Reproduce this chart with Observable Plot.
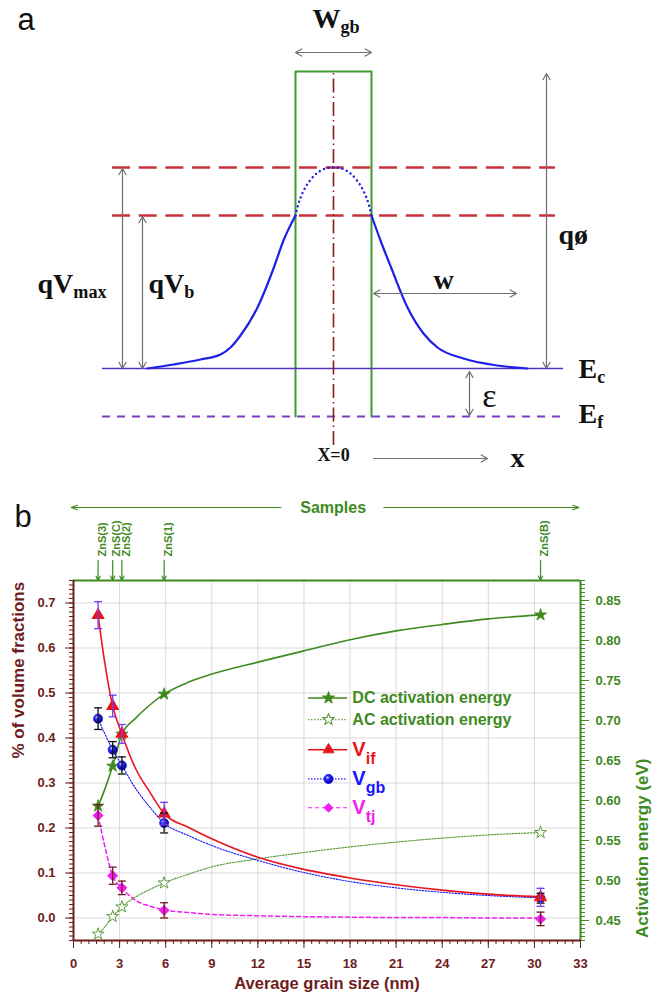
<!DOCTYPE html>
<html>
<head>
<meta charset="utf-8">
<script src="https://cdn.jsdelivr.net/npm/d3@7"></script>
<script src="https://cdn.jsdelivr.net/npm/@observablehq/plot@0.6"></script>
<style>
  html, body { margin: 0; padding: 0; background: #fff; }
  #fig { width: 661px; }
  #fig svg { display: block; }
</style>
</head>
<body>
<svg width="0" height="0" style="position:absolute">
  <defs>
    <radialGradient id="sphere" cx="38%" cy="35%" r="65%">
      <stop offset="0%" stop-color="#d0d4ff"/>
      <stop offset="35%" stop-color="#2a2aff"/>
      <stop offset="100%" stop-color="#00008a"/>
    </radialGradient>
  </defs>
</svg>
<div id="fig"></div>
<script>
// ================= Panel (b) data =================
const samples   = ["ZnS(3)", "ZnS(C)", "ZnS(2)", "ZnS(1)", "ZnS(B)"];
const grainSize = [1.6, 2.55, 3.15, 5.9, 30.4];
const vIf       = [0.673, 0.471, 0.409, 0.232, 0.046];
const vIfErr    = [0.030, 0.024, 0.021, 0.025, 0.020];
const vGb       = [0.443, 0.374, 0.339, 0.211, 0.044];
const vGbErr    = [0.024, 0.018, 0.019, 0.022, 0.011];
const vTj       = [0.228, 0.094, 0.067, 0.017, -0.002];
const vTjErr    = [0.024, 0.019, 0.015, 0.017, 0.015];
const dcEnergy  = [0.593, 0.643, 0.683, 0.733, 0.832];
const acEnergy  = [0.433, 0.455, 0.467, 0.497, 0.560];

// fitted curves
const fitX   = [1.6, 2.0, 2.55, 3.15, 4, 5, 5.9, 7.5, 9, 12, 15, 18, 21, 24, 27, 30.4];
const vIfFit = [0.673, 0.575, 0.471, 0.409, 0.335, 0.278, 0.232, 0.201, 0.176, 0.135, 0.108, 0.089, 0.074, 0.062, 0.053, 0.047];
const vGbFit = [0.443, 0.412, 0.374, 0.339, 0.290, 0.245, 0.211, 0.183, 0.161, 0.128, 0.101, 0.081, 0.067, 0.057, 0.050, 0.045];
const vTjFit = [0.228, 0.165, 0.094, 0.067, 0.040, 0.026, 0.018, 0.012, 0.008, 0.005, 0.003, 0.002, 0.001, 0.001, 0.000, 0.000];
const dcFit  = [0.593, 0.612, 0.643, 0.683, 0.702, 0.720, 0.733, 0.748, 0.758, 0.773, 0.787, 0.801, 0.812, 0.820, 0.827, 0.832];
const acFit  = [0.433, 0.441, 0.455, 0.467, 0.479, 0.489, 0.497, 0.508, 0.517, 0.527, 0.535, 0.542, 0.548, 0.553, 0.557, 0.560];

const xTicks = [0, 3, 6, 9, 12, 15, 18, 21, 24, 27, 30, 33];
const yTicks = [0.0, 0.1, 0.2, 0.3, 0.4, 0.5, 0.6, 0.7];
const eTicks = [0.45, 0.50, 0.55, 0.60, 0.65, 0.70, 0.75, 0.80, 0.85];
const legendLabels = ["DC activation energy", "AC activation energy", "V_{if}", "V_{gb}", "V_{tj}"];

// ================= Panel (a) schematic (x: offset from boundary centre, e: energy above E_f; arbitrary units) =================
const levelEf = 0, levelEc = 48, levelVb = 201, levelVmax = 249, levelTop = 345;
const bandX = [-231, 230];
const dashX = [-221, 222];
const gbOutlineX = [-38, -38, 38, 38];
const gbOutlineE = [0, 345, 345, 0];
const barrierLeftX  = [-186, -160, -133, -113, -103, -93, -76, -60, -50, -38];
const barrierLeftE  = [48, 52, 57, 62, 69, 81, 109, 148, 176, 201];
const barrierTopX   = [-38, -34, -27, -17, -8, 0, 8, 17, 27, 34, 38];
const barrierTopE   = [201, 216, 231, 243, 248, 249, 248, 243, 231, 216, 201];
const barrierRightX = [38, 47, 58, 74, 90, 104, 130, 164, 194];
const barrierRightE = [201, 176, 148, 109, 83, 69, 58, 51, 48];
const dblArrows = [
  {x1: -38, e1: 364, x2: 38, e2: 364},
  {x1: -211, e1: 48, x2: -211, e2: 248},
  {x1: -191, e1: 48, x2: -191, e2: 200},
  {x1: 213, e1: 48, x2: 213, e2: 343},
  {x1: 40, e1: 123, x2: 183, e2: 123},
  {x1: 136, e1: 1, x2: 136, e2: 45}
];
const xArrow = [{x1: 40, e1: -42, x2: 154, e2: -42}];
const labelsA = [
  {t: "W_{gb}", x: -21, e: 389},
  {t: "qV_{max}", x: -296, e: 124},
  {t: "qV_{b}", x: -185, e: 124},
  {t: "qø", x: 225, e: 173},
  {t: "E_{c}", x: 245, e: 39},
  {t: "E_{f}", x: 245, e: -6}
];

// ---------- helpers ----------
function applySubscripts(svg, size, shift) {
  d3.select(svg).selectAll("text").each(function () {
    const m = this.textContent.match(/^(.*)_\{(.*)\}$/);
    if (!m) return;
    this.textContent = "";
    const s = d3.select(this);
    s.append("tspan").text(m[1]);
    s.append("tspan").attr("font-size", size).attr("dy", shift).text(m[2]);
  });
}
const cap = {draw(ctx, size) { const w = Math.sqrt(size / Math.PI); ctx.moveTo(-w, 0); ctx.lineTo(w, 0); }};

// ================= Panel (a) =================
const grey = "#707070";
const halfArrows = dblArrows.flatMap(a => {
  const mx = (a.x1 + a.x2) / 2, me = (a.e1 + a.e2) / 2;
  return [{x1: mx, e1: me, x2: a.x1, e2: a.e1}, {x1: mx, e1: me, x2: a.x2, e2: a.e2}];
});
const ptsOf = (X, E) => X.map((x, i) => ({x, e: E[i]}));

const plotA = Plot.plot({
  width: 661, height: 480,
  x: {domain: [-333, 328], range: [0, 661], axis: null},
  y: {domain: [-64, 416], range: [480, 0], axis: null},
  style: {fontFamily: "'Liberation Serif', 'Times New Roman', serif", fontWeight: "bold", background: "white", overflow: "visible", color: "#111"},
  marks: [
    Plot.ruleY([levelEf], {x1: bandX[0], x2: bandX[1], stroke: "#7a3cc0", strokeWidth: 1.8, strokeDasharray: "8,7"}),
    Plot.line(ptsOf(gbOutlineX, gbOutlineE), {x: "x", y: "e", stroke: "#3f9b2f", strokeWidth: 2}),
    Plot.ruleY([levelVmax, levelVb], {x1: dashX[0], x2: dashX[1], stroke: "#c8323a", strokeWidth: 2.4, strokeDasharray: "18,8.7"}),
    Plot.ruleY([levelEc], {x1: bandX[0], x2: bandX[1], stroke: "#5530c8", strokeWidth: 1.6}),
    Plot.ruleX([0], {y1: -29, y2: levelTop, stroke: "#8b1d1d", strokeWidth: 1.6, strokeDasharray: "14,4,1.5,4"}),
    Plot.line(ptsOf(barrierLeftX, barrierLeftE), {x: "x", y: "e", curve: "monotone-x", stroke: "#1f1fe6", strokeWidth: 2.2}),
    Plot.line(ptsOf(barrierRightX, barrierRightE), {x: "x", y: "e", curve: "monotone-x", stroke: "#1f1fe6", strokeWidth: 2.2}),
    Plot.line(ptsOf(barrierTopX, barrierTopE), {x: "x", y: "e", curve: "catmull-rom", stroke: "#1f1fe6", strokeWidth: 2.4, strokeDasharray: "0.1,4.6", strokeLinecap: "round"}),
    Plot.arrow(halfArrows, {x1: "x1", y1: "e1", x2: "x2", y2: "e2", stroke: grey, strokeWidth: 1.2, headLength: 9, headAngle: 60}),
    Plot.arrow(xArrow, {x1: "x1", y1: "e1", x2: "x2", y2: "e2", stroke: grey, strokeWidth: 1.2, headLength: 9, headAngle: 60}),
    Plot.text(labelsA, {x: "x", y: "e", text: "t", textAnchor: "start", lineAnchor: "bottom", fontSize: 28, fill: "#111"}),
    Plot.text(["w"], {x: () => 110, y: () => 128, text: d => d, lineAnchor: "bottom", fontSize: 28, fill: "#111"}),
    Plot.text(["ε"], {x: () => 156, y: () => 20, text: d => d, fontSize: 34, fontWeight: "normal", fill: "#111"}),
    Plot.text(["X=0"], {x: () => 0, y: () => -39, text: d => d, fontSize: 18, fill: "#111"}),
    Plot.text(["x"], {x: () => 184, y: () => -42, text: d => d, fontSize: 28, fill: "#111"}),
    Plot.text(["a"], {frameAnchor: "top-left", dx: 17, dy: 29, text: d => d, textAnchor: "start", lineAnchor: "bottom", fontSize: 31, fontWeight: "normal", fontFamily: "'Liberation Sans', Arial, sans-serif", fill: "#111"})
  ]
});
applySubscripts(plotA, "0.65em", "0.3em");

// ================= Panel (b) =================
const maroon = "#6e1c1c", green = "#3f8a1f", red = "#e8141e", blue = "#1414ff", magenta = "#f01ef0";
const toLeft = d3.scaleLinear([0.425, 0.875], [-0.05, 0.75]);
const pts = samples.map((s, i) => ({
  s, x: grainSize[i],
  vif: vIf[i], vifE: vIfErr[i], vgb: vGb[i], vgbE: vGbErr[i], vtj: vTj[i], vtjE: vTjErr[i],
  dc: toLeft(dcEnergy[i]), ac: toLeft(acEnergy[i])
}));
const fit = fitX.map((x, i) => ({x, vif: vIfFit[i], vgb: vGbFit[i], vtj: vTjFit[i], dc: toLeft(dcFit[i]), ac: toLeft(acFit[i])}));

const xMinor = d3.range(0, 67).map(i => i * 0.5);
const yMinor = d3.range(0, 81).map(i => -0.05 + i * 0.01);
const eMinor = d3.range(0, 91).map(i => toLeft(0.425 + i * 0.005));

function errorBars(key, errKey, color) {
  return [
    Plot.ruleX(pts, {x: "x", y1: d => d[key] - d[errKey], y2: d => d[key] + d[errKey], stroke: color, strokeWidth: 1.3}),
    Plot.dot(pts, {x: "x", y: d => d[key] - d[errKey], symbol: cap, r: 4, stroke: color, fill: "none", strokeWidth: 1.3}),
    Plot.dot(pts, {x: "x", y: d => d[key] + d[errKey], symbol: cap, r: 4, stroke: color, fill: "none", strokeWidth: 1.3})
  ];
}

// legend layout (data units of the chart)
const legLine = [15.3, 17.85], legMark = 16.6, legText = 18.15;
const legY = [0.489, 0.441, 0.374, 0.309, 0.245];
const legStyle = [
  {stroke: green, dash: null, symbol: "star", fill: green, r: 3.8, size: 16},
  {stroke: "#6aa84f", dash: "1.5,1.5", symbol: "star", fill: "white", r: 3.8, size: 16},
  {stroke: red, dash: null, symbol: "triangle", fill: red, r: 4, size: 20},
  {stroke: blue, dash: "1.5,1.5", symbol: "circle", fill: "url(#sphere)", r: 4.5, size: 20},
  {stroke: magenta, dash: "4,3", symbol: "diamond2", fill: magenta, r: 4, size: 20}
];
const legendMarks = legendLabels.flatMap((label, i) => {
  const st = legStyle[i], y = legY[i];
  return [
    Plot.ruleY([y], {x1: legLine[0], x2: legLine[1], stroke: st.stroke, strokeWidth: st.dash ? 1.2 : 1.6, strokeDasharray: st.dash}),
    Plot.dot([y], {x: () => legMark, y: d => d, symbol: st.symbol, r: st.r, fill: st.fill, stroke: i === 1 ? green : st.stroke, strokeWidth: 1}),
    Plot.text([label], {x: () => legText, y: () => y, text: d => d, textAnchor: "start", fontSize: st.size, fill: i < 2 ? green : st.stroke})
  ];
});

const topY = 0.75, sampY = 0.75 + 73 / 450, arrowTop = 0.75 + 20 / 450;

const plotB = Plot.plot({
  width: 661, height: 518,
  marginTop: 100, marginBottom: 58, marginLeft: 73, marginRight: 81,
  x: {domain: [0, 33]},
  y: {domain: [-0.05, 0.75]},
  style: {fontFamily: "'Liberation Sans', Arial, sans-serif", fontWeight: "bold", background: "white", overflow: "visible"},
  marks: [
    Plot.gridX({ticks: xTicks.slice(1, -1), stroke: "#d9d9d9", strokeOpacity: 1}),
    Plot.gridY({ticks: yTicks, stroke: "#d9d9d9", strokeOpacity: 1}),
    Plot.axisX({ticks: xMinor, tickSize: 4, tickFormat: () => "", color: maroon, label: null}),
    Plot.axisX({ticks: xTicks, tickSize: 8, tickPadding: 10, tickFormat: d => String(d), color: maroon, fontSize: 13, label: null}),
    Plot.axisY({ticks: yMinor, tickSize: 4, tickFormat: () => "", color: maroon, label: null}),
    Plot.axisY({ticks: yTicks, tickSize: 8, tickPadding: 10, tickFormat: d3.format(".1f"), color: maroon, fontSize: 13, label: null}),
    Plot.axisY({anchor: "right", ticks: eMinor, tickSize: 4, tickFormat: () => "", color: green, label: null}),
    Plot.axisY({anchor: "right", ticks: eTicks.map(toLeft), tickSize: 8, tickPadding: 7, tickFormat: d => toLeft.invert(d).toFixed(2), color: green, fontSize: 13, label: null}),
    Plot.ruleY([0.75], {stroke: green, strokeWidth: 2}),
    Plot.ruleX([33], {stroke: green, strokeWidth: 2}),
    Plot.ruleX([0], {stroke: maroon, strokeWidth: 2}),
    Plot.ruleY([-0.05], {stroke: maroon, strokeWidth: 2}),
    // fitted curves
    Plot.line(fit, {x: "x", y: "ac", curve: "monotone-x", stroke: "#5f9e3f", strokeWidth: 1.2, strokeDasharray: "1.5,1.5"}),
    Plot.line(fit, {x: "x", y: "dc", curve: "monotone-x", stroke: green, strokeWidth: 1.6}),
    Plot.line(fit, {x: "x", y: "vtj", curve: "monotone-x", stroke: magenta, strokeWidth: 1.5, strokeDasharray: "4,3"}),
    Plot.line(fit, {x: "x", y: "vgb", curve: "monotone-x", stroke: blue, strokeWidth: 1.1, strokeDasharray: "1.5,1.5"}),
    Plot.line(fit, {x: "x", y: "vif", curve: "monotone-x", stroke: red, strokeWidth: 1.6}),
    // markers
    Plot.dot(pts, {x: "x", y: "ac", symbol: "star", r: 3.8, fill: "white", stroke: "#5f9e3f", strokeWidth: 1}),
    Plot.dot(pts, {x: "x", y: "dc", symbol: "star", r: 3.8, fill: green, stroke: green, strokeWidth: 0.8}),
    Plot.dot(pts, {x: "x", y: "vtj", symbol: "diamond2", r: 4, fill: magenta, stroke: magenta}),
    Plot.dot(pts, {x: "x", y: "vgb", symbol: "circle", r: 4.6, fill: "url(#sphere)", stroke: "#0000a0", strokeWidth: 0.5}),
    Plot.dot(pts, {x: "x", y: "vif", symbol: "triangle", r: 4, fill: red, stroke: red}),
    // error bars
    ...errorBars("vtj", "vtjE", maroon),
    ...errorBars("vgb", "vgbE", "#111111"),
    ...errorBars("vif", "vifE", "#7a3cf0"),
    // legend
    ...legendMarks,
    // sample annotations above the frame
    Plot.arrow(pts, {x1: "x", x2: "x", y1: () => arrowTop, y2: () => topY, stroke: green, strokeWidth: 1.2, headLength: 6, headAngle: 50}),
    Plot.text(pts, {x: "x", frameAnchor: "top", dy: -24, rotate: -90, textAnchor: "start", text: "s", fill: green, fontSize: 11}),
    Plot.arrow([{a: 13.5, b: -0.15}, {a: 20.2, b: 32.9}], {x1: "a", x2: "b", y1: () => sampY, y2: () => sampY, stroke: green, strokeWidth: 1.2, headLength: 8, headAngle: 40}),
    Plot.text(["Samples"], {x: () => 16.9, y: () => sampY, text: d => d, fill: green, fontSize: 16}),
    // axis titles and panel letter
    Plot.text(["% of volume fractions"], {frameAnchor: "left", dx: -55, dy: -2, rotate: -90, text: d => d, fill: maroon, fontSize: 17}),
    Plot.text(["Activation energy (eV)"], {frameAnchor: "right", dx: 62, dy: -2, rotate: -90, text: d => d, fill: green, fontSize: 17}),
    Plot.text(["Average grain size (nm)"], {frameAnchor: "bottom", dy: 48, text: d => d, fill: maroon, fontSize: 16.5}),
    Plot.text(["b"], {frameAnchor: "top-left", dx: -59, dy: -54, text: d => d, textAnchor: "start", lineAnchor: "bottom", fontSize: 31, fontWeight: "normal", fill: "#111"})
  ]
});
applySubscripts(plotB, "0.8em", "0.5em");

document.getElementById("fig").append(plotA, plotB);
</script>
</body>
</html>
